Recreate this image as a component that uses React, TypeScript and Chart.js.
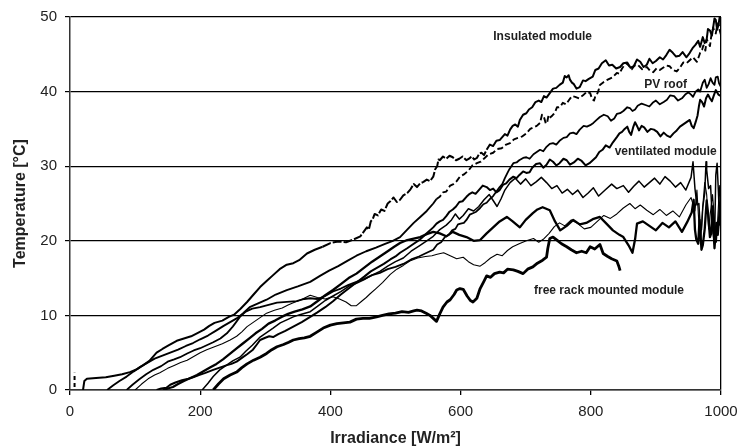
import React, { useEffect, useRef } from "react";
import { Chart, registerables } from "chart.js";

Chart.register(...registerables);

type Pt = [number, number];

// Axis ranges / ticks
const xTicks = [0, 200, 400, 600, 800, 1000];
const yTicks = [0, 10, 20, 30, 40, 50];

// Module temperature rise above ambient vs. irradiance, one trace per measurement day
const traceA: Pt[] = [
  [20, 0], [22, 1.2], [26, 1.5], [40, 1.6], [55, 1.7], [68, 1.9], [80, 2.1], [92, 2.4], [103, 2.8], [112, 3.3],
  [122, 3.9], [133, 5.0], [142, 5.5], [152, 6.0], [164, 6.6], [175, 6.9], [186, 7.2], [195, 7.6], [206, 8.1], [214, 8.6],
  [222, 9.0], [234, 9.3], [244, 9.8], [252, 10.1], [262, 10.9], [272, 11.8], [282, 12.8], [292, 13.8], [302, 14.6], [312, 15.4],
  [322, 16.2], [333, 16.8], [343, 17.0], [352, 17.4], [364, 18.3], [376, 18.8], [388, 19.2], [400, 19.7], [412, 19.9], [424, 19.8],
  [436, 20.2], [446, 20.6], [456, 21.8], [459, 21.5], [462, 22.6], [465, 22.9], [468, 23.6], [473, 23.4], [478, 24.2], [483, 24.0],
  [488, 25.0], [492, 25.3], [497, 25.8], [502, 25.2], [507, 25.5], [512, 26.1], [518, 26.4], [523, 26.9], [528, 27.6], [533, 27.2],
  [538, 27.7], [543, 27.9], [548, 28.2], [553, 28.0], [558, 28.6], [561, 29.6], [564, 30.0], [566, 30.9], [568, 30.8], [573, 31.3],
  [578, 31.0], [583, 31.4], [588, 31.2], [593, 30.8], [598, 31.0], [603, 31.3], [609, 30.8], [613, 31.0], [617, 31.3], [621, 30.9],
  [625, 31.1], [629, 31.7], [632, 31.8], [636, 31.5], [640, 32.2], [645, 32.9], [650, 32.7], [655, 33.4], [660, 33.5], [664, 33.9],
  [668, 34.3], [672, 34.1], [676, 34.9], [680, 35.4], [684, 35.6], [688, 35.3], [691, 36.2], [696, 36.9], [701, 37.1], [705, 37.6],
  [710, 37.9], [715, 38.6], [720, 38.8], [724, 38.6], [728, 39.4], [732, 39.2], [737, 39.8], [742, 40.4], [747, 40.5], [752, 40.9],
  [757, 41.2], [760, 42.1], [763, 41.9], [766, 42.2], [768, 41.6], [771, 41.2], [774, 41.0], [778, 40.4], [783, 40.6], [788, 41.5],
  [792, 41.4], [797, 41.7], [803, 42.0], [807, 42.9], [812, 43.1], [817, 43.8], [823, 44.2], [828, 43.5], [833, 43.6], [839, 43.1],
  [845, 43.3], [850, 43.8], [856, 43.9], [861, 43.2], [866, 43.4], [871, 44.3], [876, 44.0], [881, 43.3], [886, 43.6], [890, 44.4],
  [895, 43.8], [900, 44.1], [906, 44.6], [911, 44.3], [916, 44.9], [921, 45.6], [926, 45.2], [931, 44.7], [936, 44.8], [941, 45.3],
  [947, 44.6], [952, 45.2], [957, 45.9], [961, 46.3], [965, 46.8], [968, 46.0], [972, 47.3], [975, 46.5], [978, 47.0], [980, 48.4],
  [983, 48.2], [986, 47.5], [988, 48.6], [990, 49.8], [992, 49.6], [994, 48.3], [996, 48.9], [998, 50.0], [1000, 49.5],
];

const traceB: Pt[] = [
  [57, 0], [66, 0.6], [76, 1.2], [87, 1.8], [98, 2.5], [108, 3.1], [118, 3.6], [130, 4.2], [142, 4.6], [154, 5.0],
  [166, 5.4], [178, 5.9], [189, 6.3], [200, 6.8], [212, 7.3], [225, 8.0], [236, 8.6], [246, 9.1], [256, 9.6], [266, 10.3],
  [276, 11.1], [289, 11.6], [302, 12.1], [316, 12.8], [333, 13.4], [350, 13.9], [369, 14.5], [384, 15.3], [398, 16.0], [412, 16.6],
  [426, 17.3], [440, 18.0], [455, 18.6], [470, 19.1], [484, 19.6], [496, 20.0], [507, 20.5], [518, 21.5], [528, 22.4], [538, 23.2],
  [548, 24.0], [558, 25.0], [563, 25.6], [568, 25.9], [573, 26.5], [578, 26.6], [584, 27.4], [589, 27.6], [594, 28.0], [599, 28.6],
  [605, 28.9], [612, 29.4], [618, 30.1], [625, 30.4], [631, 30.6], [637, 31.1], [643, 31.6], [650, 31.8], [656, 32.3], [663, 32.4],
  [670, 32.9], [676, 33.1], [682, 33.6], [688, 33.8], [695, 34.0], [701, 34.4], [707, 35.0], [712, 35.2], [717, 35.4], [722, 35.8],
  [725, 36.9], [728, 36.6], [731, 35.7], [733, 35.9], [735, 36.8], [737, 36.5], [741, 36.8], [745, 37.2], [748, 37.9], [751, 37.9],
  [754, 38.1], [757, 38.5], [762, 38.3], [766, 38.8], [771, 39.4], [776, 39.3], [782, 39.1], [788, 39.5], [794, 40.0], [799, 39.8],
  [802, 39.0], [805, 38.8], [807, 39.4], [809, 39.5], [812, 40.2], [814, 40.9], [820, 41.3], [826, 41.6], [833, 41.9], [840, 42.5],
  [844, 42.4], [848, 43.1], [852, 43.6], [855, 43.8], [859, 43.4], [863, 43.0], [867, 43.5], [872, 43.6], [879, 43.0], [886, 43.3],
  [891, 42.8], [896, 42.6], [901, 43.1], [906, 42.9], [911, 43.2], [916, 43.5], [921, 43.4], [926, 42.9], [932, 42.7], [937, 43.2],
  [942, 43.9], [947, 43.8], [952, 44.2], [957, 44.6], [960, 44.3], [963, 44.0], [966, 44.7], [968, 45.2], [971, 45.6], [973, 46.2],
  [976, 45.5], [978, 47.0], [981, 46.5], [983, 46.1], [985, 47.4], [988, 48.6], [990, 48.0], [992, 47.8], [994, 48.8], [996, 49.2],
  [998, 48.2], [1000, 47.6],
];

const traceC: Pt[] = [
  [87, 0], [96, 0.7], [106, 1.4], [117, 2.1], [128, 2.7], [140, 3.2], [150, 3.8], [160, 4.1], [169, 4.4], [180, 4.9],
  [190, 5.3], [200, 5.6], [210, 6.0], [220, 6.4], [231, 6.9], [241, 7.6], [250, 8.5], [256, 9.2], [261, 9.8], [270, 10.5],
  [280, 10.9], [292, 11.1], [305, 11.4], [318, 11.7], [333, 11.8], [348, 11.9], [360, 12.2], [369, 12.3], [380, 12.2], [392, 12.6],
  [404, 13.2], [416, 13.6], [428, 14.1], [440, 14.5], [452, 14.9], [464, 15.4], [476, 15.7], [488, 16.2], [500, 16.5], [512, 16.9],
  [524, 17.5], [536, 17.9], [548, 18.4], [558, 18.8], [564, 19.5], [570, 19.8], [576, 20.5], [582, 20.8], [587, 21.4], [592, 21.6],
  [596, 22.2], [600, 22.3], [605, 22.4], [609, 22.8], [614, 23.5], [619, 23.7], [624, 23.9], [630, 24.4], [635, 24.9], [640, 25.1],
  [645, 25.6], [650, 26.0], [655, 26.6], [660, 27.2], [664, 27.6], [668, 28.4], [672, 29.1], [675, 29.6], [678, 30.0], [681, 30.4],
  [686, 30.5], [690, 30.8], [696, 31.1], [701, 31.2], [706, 31.0], [712, 31.6], [717, 31.9], [722, 32.2], [727, 32.0], [732, 32.6],
  [737, 33.0], [742, 33.1], [747, 32.9], [752, 33.4], [758, 33.8], [763, 33.9], [768, 34.4], [773, 34.5], [778, 34.3], [783, 34.9],
  [789, 35.4], [794, 35.3], [799, 35.5], [804, 35.8], [809, 36.2], [814, 36.6], [820, 36.9], [826, 36.7], [831, 36.1], [836, 36.4],
  [840, 37.0], [845, 37.1], [850, 37.4], [856, 37.9], [860, 37.8], [864, 37.4], [868, 37.6], [872, 38.1], [878, 38.4], [884, 38.2],
  [890, 38.0], [895, 38.5], [900, 38.8], [906, 38.3], [912, 38.6], [917, 38.9], [922, 39.5], [928, 39.4], [934, 38.8], [940, 39.1],
  [945, 39.6], [950, 39.9], [954, 39.6], [957, 39.3], [961, 40.0], [965, 40.3], [968, 40.0], [972, 41.2], [975, 41.6], [978, 40.5],
  [981, 41.0], [984, 41.8], [987, 41.2], [990, 40.9], [992, 41.9], [995, 42.0], [997, 41.1], [1000, 40.6],
];

const traceD: Pt[] = [
  [100, 0], [110, 0.8], [120, 1.5], [130, 2.0], [138, 2.3], [150, 2.9], [160, 3.3], [170, 3.7], [180, 4.0], [190, 4.5],
  [200, 5.0], [210, 5.4], [222, 5.8], [234, 6.2], [246, 6.7], [256, 7.2], [264, 7.8], [272, 8.5], [282, 9.1], [292, 9.7],
  [302, 10.3], [314, 10.7], [326, 11.0], [335, 11.4], [343, 11.7], [355, 12.1], [369, 12.7], [380, 12.4], [392, 12.2], [404, 12.5],
  [414, 12.2], [424, 11.8], [432, 11.3], [440, 11.3], [448, 11.9], [455, 12.4], [461, 12.9], [470, 13.6], [480, 14.4], [492, 15.5],
  [502, 16.2], [512, 16.7], [522, 17.3], [534, 17.7], [546, 17.9], [556, 18.0], [564, 18.2], [574, 18.4], [584, 18.0], [594, 17.6],
  [604, 17.8], [612, 17.2], [620, 16.8], [630, 16.6], [638, 17.1], [646, 17.7], [656, 18.2], [664, 18.0], [672, 18.7], [680, 19.2],
  [690, 19.6], [701, 20.0], [712, 20.3], [720, 19.8], [727, 20.2], [736, 21.0], [744, 21.9], [752, 22.4], [760, 22.0], [770, 22.8],
  [780, 22.3], [790, 21.6], [800, 21.8], [810, 22.6], [820, 23.4], [830, 23.0], [840, 23.6], [850, 24.4], [860, 25.0], [868, 24.3],
  [876, 24.8], [886, 24.1], [896, 23.5], [906, 24.2], [916, 23.4], [926, 24.0], [936, 23.2], [946, 24.8], [954, 25.8], [960, 24.0],
  [963, 26.8], [966, 22.4], [969, 20.2], [972, 24.6], [975, 27.8], [978, 26.2], [981, 21.6], [984, 24.0], [987, 26.2], [990, 22.8],
  [993, 19.8], [996, 24.6], [998, 27.4], [1000, 23.8],
];

const traceE: Pt[] = [
  [133, 0], [140, 0.2], [148, 0.3], [154, 0.7], [162, 1.0], [172, 1.3], [182, 1.5], [189, 1.7], [198, 2.0], [208, 2.3],
  [220, 2.7], [230, 3.0], [240, 3.3], [248, 3.5], [256, 3.8], [264, 4.3], [272, 4.8], [281, 5.4], [287, 6.1], [292, 6.7],
  [300, 7.0], [306, 7.2], [312, 7.1], [320, 7.5], [330, 7.9], [343, 8.5], [356, 9.1], [369, 9.8], [380, 10.4], [392, 11.1],
  [404, 11.9], [416, 12.8], [428, 13.6], [440, 14.4], [452, 15.2], [462, 15.9], [472, 16.4], [482, 16.9], [492, 17.5], [500, 17.9],
  [507, 18.4], [518, 19.0], [528, 19.6], [538, 20.2], [548, 21.0], [558, 21.8], [563, 22.3], [568, 22.6], [573, 22.8], [578, 23.3],
  [583, 23.9], [588, 24.2], [593, 24.6], [598, 25.2], [603, 25.3], [609, 25.9], [614, 26.3], [618, 26.5], [623, 26.3], [628, 26.8],
  [634, 27.4], [640, 27.2], [645, 26.8], [650, 27.0], [655, 26.5], [660, 26.8], [665, 27.5], [670, 27.7], [675, 28.2], [681, 28.6],
  [686, 28.4], [690, 28.8], [696, 29.3], [701, 29.1], [706, 29.2], [710, 29.8], [716, 30.3], [722, 30.4], [727, 29.8], [732, 30.2],
  [737, 30.9], [742, 30.6], [747, 30.1], [752, 30.4], [758, 31.0], [763, 30.8], [768, 30.2], [774, 30.5], [780, 31.0], [786, 30.7],
  [792, 30.1], [798, 30.4], [803, 30.8], [808, 31.2], [813, 31.9], [818, 32.2], [823, 32.8], [829, 32.5], [834, 33.2], [840, 33.9],
  [844, 34.4], [848, 34.6], [852, 35.0], [856, 35.3], [859, 34.6], [862, 34.2], [865, 35.2], [868, 35.9], [871, 35.4], [874, 34.8],
  [878, 35.4], [882, 35.2], [887, 34.6], [892, 35.0], [897, 34.9], [902, 34.6], [907, 34.0], [912, 34.5], [917, 34.1], [922, 33.9],
  [927, 34.4], [932, 34.8], [937, 35.3], [942, 35.6], [947, 35.9], [952, 36.2], [955, 35.4], [958, 35.1], [961, 35.9], [964, 36.8],
  [966, 38.0], [968, 38.9], [971, 38.6], [974, 38.0], [977, 39.1], [980, 39.6], [983, 39.1], [986, 38.7], [989, 39.5], [992, 40.2],
  [996, 39.6], [1000, 39.4],
];

const traceF: Pt[] = [
  [203, 0], [212, 0.9], [220, 1.8], [230, 2.7], [240, 3.3], [250, 3.9], [261, 4.4], [270, 5.2], [280, 6.0], [292, 7.1],
  [302, 7.7], [312, 8.3], [323, 9.0], [333, 9.4], [343, 9.8], [353, 10.1], [361, 10.3], [369, 10.5], [380, 11.2], [392, 12.0],
  [404, 12.6], [416, 13.2], [428, 13.9], [440, 14.3], [452, 14.8], [464, 15.4], [476, 15.9], [488, 16.6], [500, 17.2], [512, 17.7],
  [524, 18.6], [536, 19.3], [548, 20.0], [558, 20.6], [568, 21.5], [578, 22.1], [586, 22.8], [592, 23.6], [598, 22.9], [604, 23.4],
  [612, 24.3], [620, 24.0], [628, 24.6], [636, 25.5], [644, 26.2], [650, 25.4], [656, 24.6], [662, 25.6], [668, 26.8], [676, 27.8],
  [684, 28.4], [692, 27.6], [700, 28.3], [708, 27.4], [716, 27.9], [724, 28.5], [732, 27.8], [740, 27.0], [748, 27.4], [756, 26.4],
  [764, 26.9], [772, 26.2], [780, 26.8], [788, 25.8], [796, 26.4], [804, 27.1], [812, 26.0], [822, 26.8], [832, 27.6], [840, 27.0],
  [850, 27.4], [858, 26.5], [866, 27.3], [874, 28.0], [882, 27.2], [890, 27.8], [898, 28.4], [906, 27.6], [914, 28.6], [922, 28.0],
  [930, 27.2], [938, 27.8], [946, 26.8], [954, 28.5], [957, 30.6], [960, 27.0], [963, 24.8], [966, 25.0], [968, 22.0], [970, 21.5],
  [972, 24.5], [975, 26.4], [977, 30.6], [978, 29.5], [981, 27.0], [984, 27.4], [986, 24.0], [988, 21.0], [990, 19.6], [992, 28.8],
  [994, 30.4], [996, 26.6], [998, 22.2], [1000, 28.2],
];

const traceG: Pt[] = [
  [220, 0], [228, 0.8], [236, 1.5], [246, 2.0], [256, 2.4], [264, 3.0], [272, 3.5], [282, 4.0], [292, 4.4], [302, 4.9],
  [310, 5.4], [318, 5.8], [328, 6.1], [336, 6.4], [343, 6.7], [352, 6.9], [360, 7.0], [369, 7.2], [378, 7.7], [389, 8.3],
  [400, 8.7], [410, 8.9], [420, 9.0], [430, 9.1], [440, 9.5], [450, 9.6], [460, 9.6], [471, 9.8], [480, 10.0], [490, 10.2],
  [500, 10.3], [510, 10.5], [520, 10.4], [528, 10.6], [533, 10.7], [540, 10.6], [547, 10.3], [553, 10.0], [558, 9.6], [563, 9.2],
  [568, 10.2], [573, 11.1], [579, 11.8], [584, 12.1], [590, 12.8], [594, 13.4], [599, 13.6], [604, 13.5], [610, 12.6], [615, 12.0],
  [619, 11.8], [625, 12.3], [630, 13.6], [636, 14.6], [640, 15.3], [646, 15.1], [652, 15.6], [660, 15.8], [666, 15.7], [672, 16.2],
  [681, 16.1], [688, 15.9], [696, 15.6], [703, 16.2], [711, 16.5], [718, 17.0], [726, 17.4], [732, 17.8], [734, 19.0], [737, 20.3],
  [742, 20.5], [748, 20.1], [755, 19.6], [763, 19.2], [770, 18.8], [778, 18.4], [786, 18.6], [793, 18.4], [799, 19.2], [806, 18.9],
  [814, 19.5], [819, 18.3], [826, 17.9], [832, 17.6], [840, 17.3], [843, 16.6], [845, 16.0],
];

const traceH: Pt[] = [
  [143, 0], [150, 0.2], [158, 0.4], [166, 0.8], [175, 1.2], [185, 1.6], [195, 2.0], [205, 2.5], [215, 3.0], [225, 3.5],
  [235, 4.1], [245, 4.8], [255, 5.5], [265, 6.2], [275, 6.9], [285, 7.6], [295, 8.2], [305, 8.9], [315, 9.3], [325, 9.8],
  [335, 10.2], [345, 10.5], [357, 10.8], [369, 11.2], [380, 11.9], [392, 12.7], [404, 13.4], [416, 14.2], [428, 15.0], [440, 15.6],
  [452, 16.4], [464, 17.2], [476, 17.9], [488, 18.6], [498, 19.2], [507, 19.7], [518, 20.1], [528, 20.3], [538, 20.5], [548, 20.9],
  [558, 21.2], [568, 21.0], [578, 20.6], [588, 21.2], [598, 20.8], [609, 20.5], [620, 20.0], [630, 20.1], [640, 21.0], [650, 21.8],
  [660, 22.6], [671, 23.2], [680, 22.6], [691, 21.8], [700, 22.8], [711, 23.7], [718, 24.2], [726, 24.5], [737, 24.1], [745, 22.6],
  [753, 21.4], [763, 22.0], [773, 22.8], [783, 22.2], [793, 22.4], [803, 22.9], [814, 23.2], [824, 22.3], [834, 21.4], [844, 20.8],
  [850, 20.5], [858, 19.4], [864, 18.4], [868, 20.2], [871, 22.3], [880, 22.6], [890, 22.0], [900, 21.4], [910, 22.4], [920, 21.8],
  [930, 22.6], [940, 21.2], [948, 22.5], [955, 23.8], [958, 25.5], [960, 21.5], [962, 20.2], [965, 19.6], [967, 22.8], [970, 18.8],
  [972, 19.4], [975, 21.6], [978, 25.4], [980, 23.8], [983, 20.5], [985, 21.0], [987, 24.6], [990, 19.0], [993, 22.4], [995, 20.8],
  [998, 24.0], [1000, 22.0],
];

// Short night-time offset mark near zero irradiance
const zeroMark: Pt[] = [[7, 0.4], [7, 2.3]];

// Text labels placed in data coordinates
const curveLabels = [
  { text: "Insulated module", x: 726, y: 47.3 },
  { text: "PV roof", x: 915, y: 40.9 },
  { text: "ventilated module", x: 915, y: 31.9 },
  { text: "free rack mounted module", x: 828, y: 13.3 },
];

const FONT = "'Liberation Sans', Arial, Helvetica, sans-serif";

const labelPlugin = {
  id: "curveLabels",
  afterDatasetsDraw(chart: any) {
    const { ctx, scales } = chart;
    ctx.save();
    ctx.font = `bold 12px ${FONT}`;
    ctx.fillStyle = "#1e1e1e";
    ctx.textAlign = "center";
    ctx.textBaseline = "middle";
    for (const l of curveLabels) {
      ctx.fillText(l.text, scales.x.getPixelForValue(l.x), scales.y.getPixelForValue(l.y));
    }
    ctx.restore();
  },
};

const toXY = (pts: Pt[]) => pts.map(([x, y]) => ({ x, y }));

export default function App() {
  const canvasRef = useRef<HTMLCanvasElement | null>(null);

  useEffect(() => {
    if (!canvasRef.current) return;

    const line = (pts: Pt[], width: number, extra: any = {}) => ({
      data: toXY(pts),
      showLine: true,
      borderColor: "#000",
      borderWidth: width,
      pointRadius: 0,
      tension: 0,
      fill: false,
      borderJoinStyle: "round",
      borderCapStyle: "butt",
      ...extra,
    });

    const chart = new Chart(canvasRef.current, {
      type: "scatter",
      data: {
        datasets: [
          line(traceA, 2.0, {
            segment: { borderDash: (c: any) => (c.p0.parsed.x > 380 && c.p0.parsed.x < 640 ? [9, 2] : undefined) },
          }),
          line(traceB, 1.9, {
            segment: { borderDash: (c: any) => (c.p0.parsed.x > 560 ? [6, 3] : undefined) },
          }),
          line(traceC, 1.8),
          line(traceD, 1.1),
          line(traceE, 2.0),
          line(traceF, 1.5),
          line(traceG, 2.8),
          line(traceH, 2.3),
          line(zeroMark, 2.0, { borderDash: [4, 3] }),
        ] as any,
      },
      options: {
        animation: false,
        responsive: true,
        maintainAspectRatio: false,
        layout: { padding: { left: 0, top: 17, right: 19, bottom: 0 } },
        plugins: {
          legend: { display: false },
          tooltip: { enabled: false },
        },
        scales: {
          x: {
            type: "linear",
            min: 0,
            max: 1000,
            afterBuildTicks: (s: any) => {
              s.ticks = xTicks.map((v) => ({ value: v }));
            },
            afterFit: (s: any) => {
              s.height = 58;
              s.paddingLeft = 0;
              s.paddingRight = 0;
            },
            ticks: {
              color: "#222",
              font: { family: FONT, size: 15 },
              padding: 8,
              maxRotation: 0,
              callback: (v: any) => String(v),
            },
            grid: {
              color: (c: any) => (c.tick && c.tick.value === 1000 ? "#000" : "rgba(0,0,0,0)"),
              tickColor: "#000",
              tickLength: 5,
              lineWidth: 1.3,
            },
            border: { display: true, color: "#333", width: 1.5 },
            title: {
              display: true,
              text: "Irradiance [W/m²]",
              color: "#222",
              font: { family: FONT, size: 16, weight: "bold" },
              padding: { top: 0, bottom: 0 },
            },
          },
          y: {
            type: "linear",
            min: 0,
            max: 50,
            afterBuildTicks: (s: any) => {
              s.ticks = yTicks.map((v) => ({ value: v }));
            },
            afterFit: (s: any) => {
              s.width = 70;
              s.paddingTop = 0;
              s.paddingBottom = 0;
            },
            ticks: {
              color: "#222",
              font: { family: FONT, size: 15 },
              padding: 8,
              callback: (v: any) => String(v),
            },
            grid: {
              color: "#000",
              tickColor: "#000",
              tickLength: 5,
              lineWidth: 1.2,
            },
            border: { display: true, color: "#333", width: 1.5 },
            title: {
              display: true,
              text: "Temperature [°C]",
              color: "#222",
              font: { family: FONT, size: 16, weight: "bold" },
              padding: { top: 11, bottom: 0 },
            },
          },
        },
      } as any,
      plugins: [labelPlugin],
    });

    return () => chart.destroy();
  }, []);

  return (
    <div
      style={{
        position: "fixed",
        left: 0,
        top: 0,
        width: 740,
        height: 448,
        background: "#fff",
      }}
    >
      <canvas ref={canvasRef} />
    </div>
  );
}
